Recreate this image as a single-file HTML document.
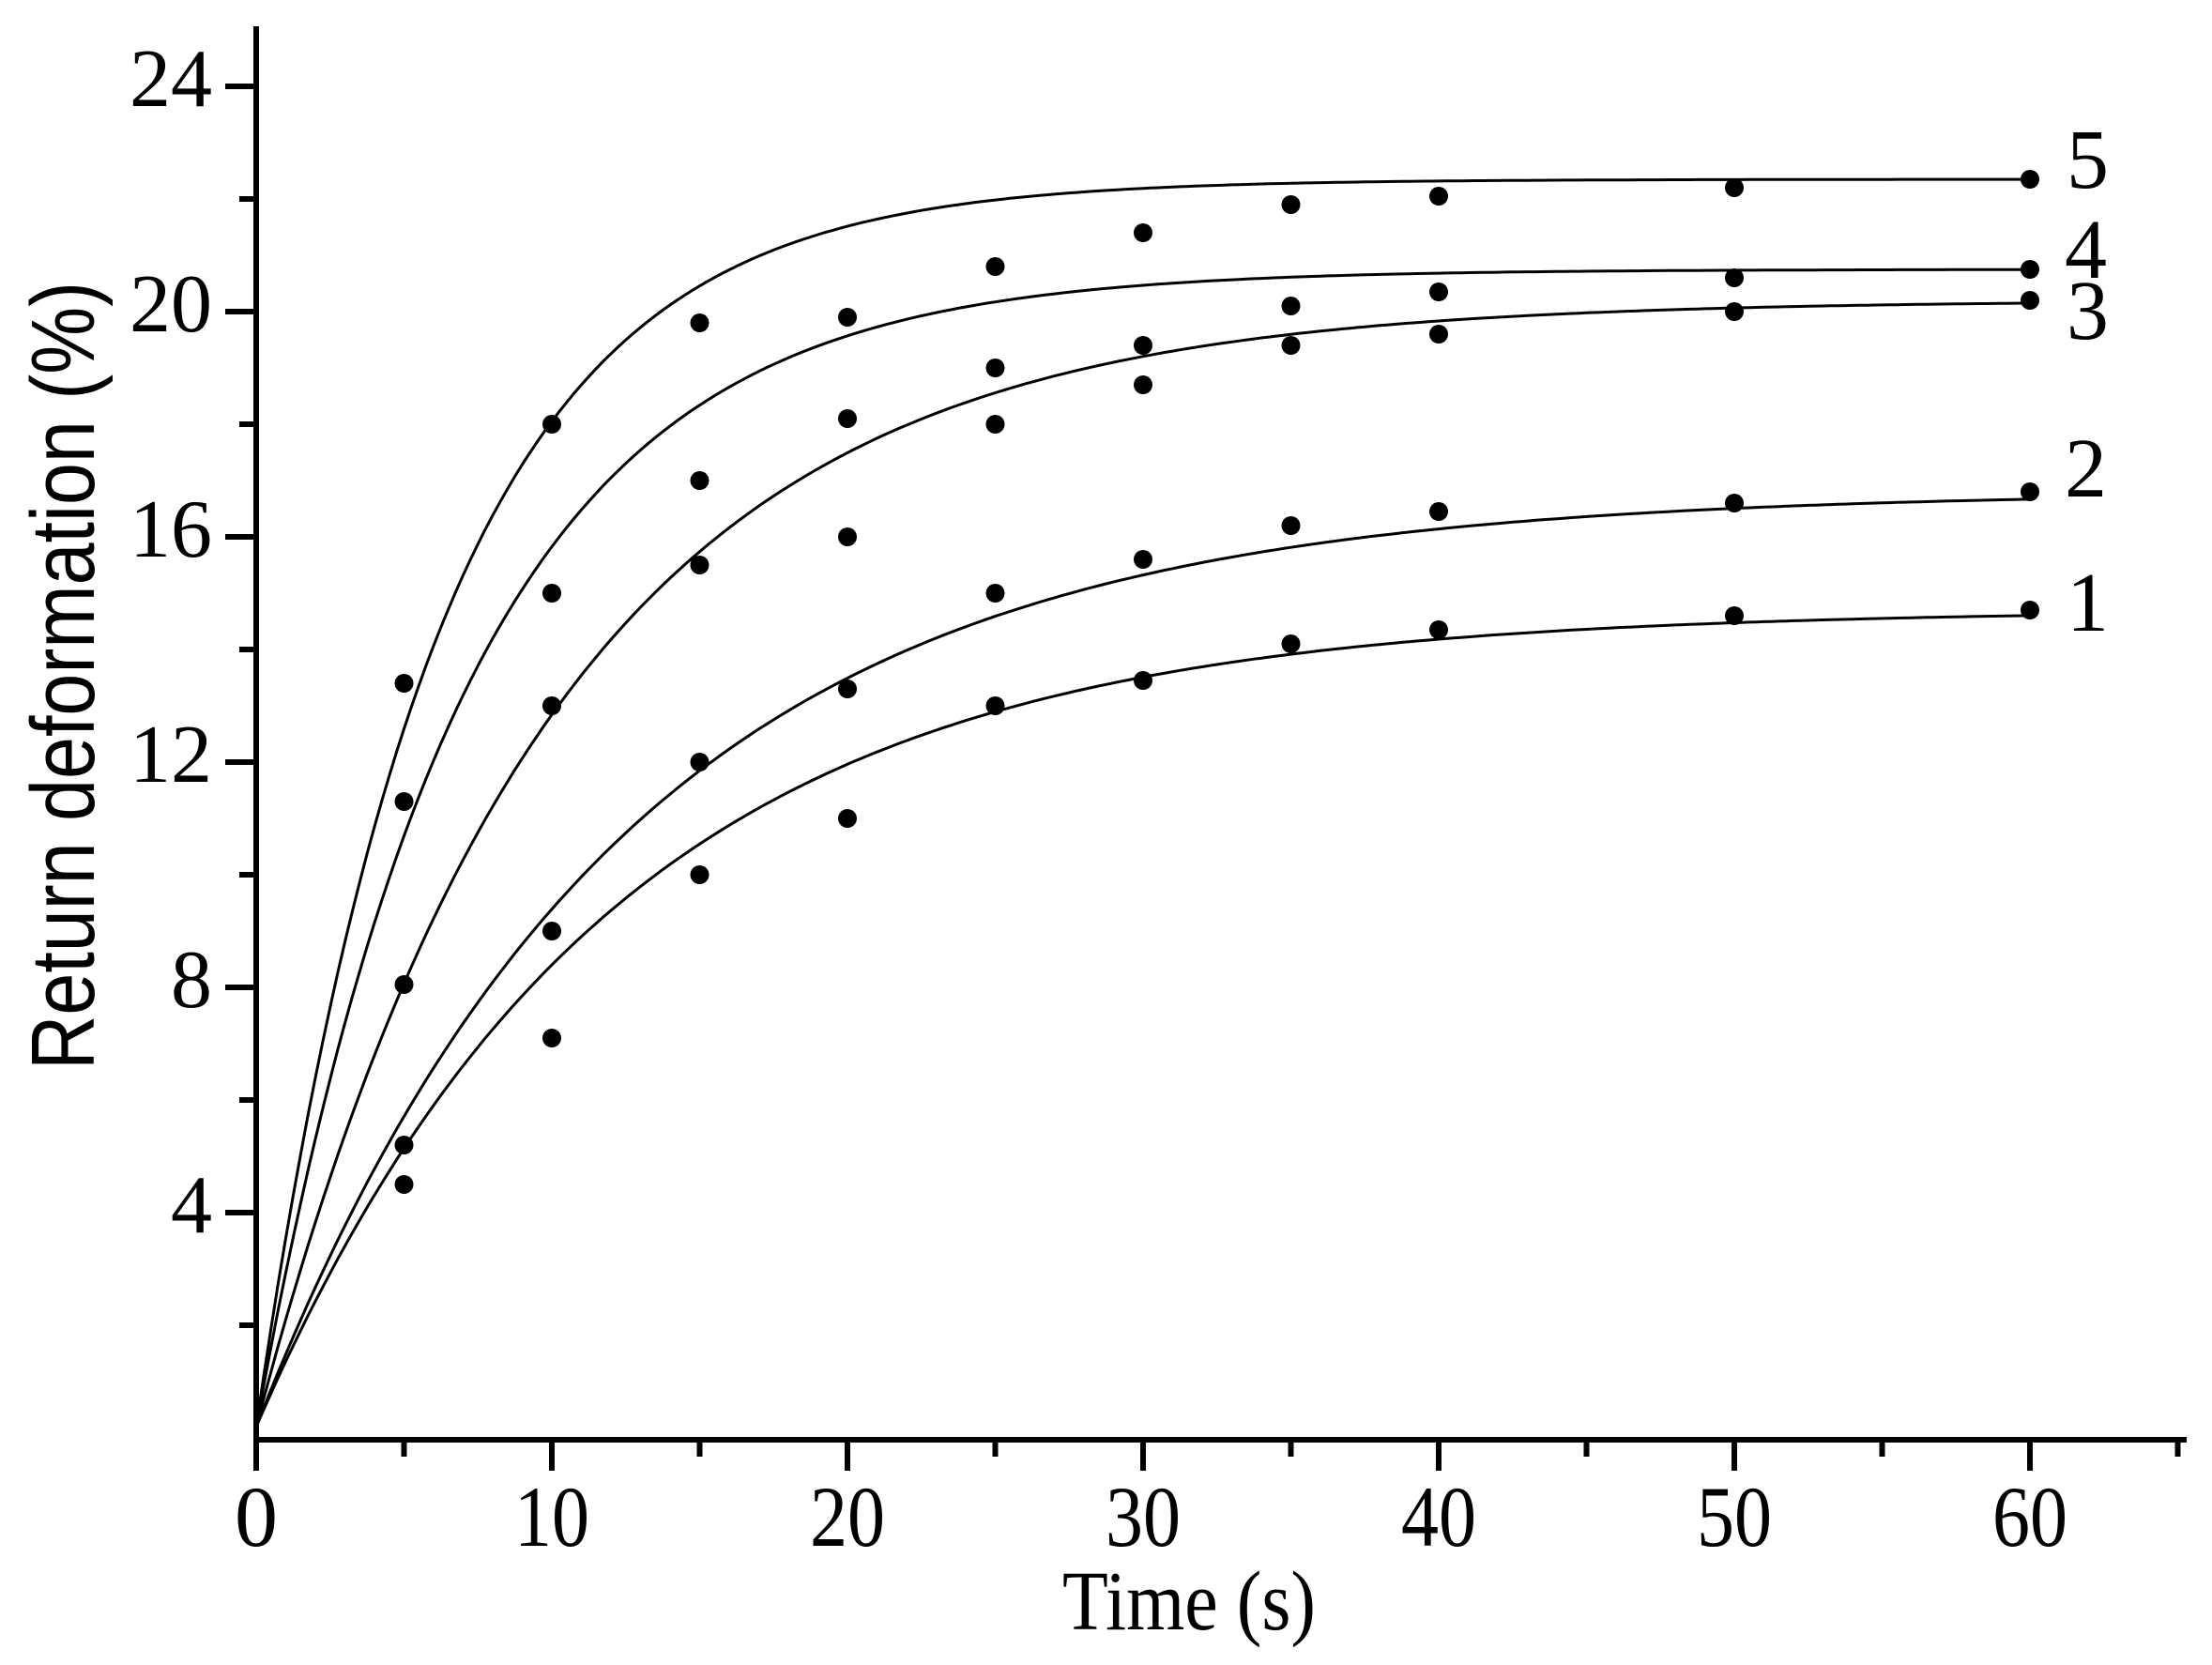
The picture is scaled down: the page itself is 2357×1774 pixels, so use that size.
<!DOCTYPE html>
<html><head><meta charset="utf-8"><style>html,body{margin:0;padding:0;background:#fff}svg{display:block}</style></head>
<body>
<svg id="s" width="2357" height="1774" viewBox="0 0 2357 1774" xmlns="http://www.w3.org/2000/svg">
<rect width="2357" height="1774" fill="#fff"/>
<g id="ax" stroke="#000" stroke-width="6" fill="none">
<line x1="273" y1="28" x2="273" y2="1537"/>
<line x1="270" y1="1534" x2="2330" y2="1534"/>
</g>
<g id="curves" stroke="#000" stroke-width="3" fill="none"></g>
<g id="dots" fill="#000"></g>
<g font-family="Liberation Serif, serif" font-size="88" fill="#000" text-anchor="end">
<text x="226" y="113">24</text>
<text x="226" y="353">20</text>
<text x="226" y="593">16</text>
<text x="226" y="833">12</text>
<text x="226" y="1073">8</text>
<text x="226" y="1313">4</text>
</g>
<g font-family="Liberation Serif, serif" font-size="92" fill="#000" text-anchor="middle">
<text x="273" y="1647">0</text>
<text x="588" y="1647" textLength="80" lengthAdjust="spacingAndGlyphs">10</text>
<text x="903" y="1647" textLength="80" lengthAdjust="spacingAndGlyphs">20</text>
<text x="1218" y="1647" textLength="80" lengthAdjust="spacingAndGlyphs">30</text>
<text x="1533" y="1647" textLength="80" lengthAdjust="spacingAndGlyphs">40</text>
<text x="1848" y="1647" textLength="80" lengthAdjust="spacingAndGlyphs">50</text>
<text x="2163" y="1647" textLength="80" lengthAdjust="spacingAndGlyphs">60</text>
</g>
<text x="1267" y="1736" font-family="Liberation Serif, serif" font-size="90" text-anchor="middle" textLength="270" lengthAdjust="spacingAndGlyphs">Time (s)</text>
<text transform="translate(100,720) rotate(-90)" font-family="Liberation Sans, sans-serif" font-size="96" text-anchor="middle" textLength="840" lengthAdjust="spacingAndGlyphs">Return deformation (%)</text>
<g font-family="Liberation Serif, serif" font-size="90" fill="#000">
<text x="2202" y="200">5</text>
<text x="2200" y="296">4</text>
<text x="2202" y="361">3</text>
<text x="2200" y="529">2</text>
<text x="2202" y="672">1</text>
</g>
</svg>
<script>
var NS="http://www.w3.org/2000/svg";
function X(t){return 273+31.5*t;}function Y(v){return 1532-60*v;}
var ax=document.getElementById("ax");
function ln(x1,y1,x2,y2){var l=document.createElementNS(NS,"line");l.setAttribute("x1",x1);l.setAttribute("y1",y1);l.setAttribute("x2",x2);l.setAttribute("y2",y2);ax.appendChild(l);}
for(var v=2;v<=24;v+=2){var major=(v%4==0);ln(major?240:255,Y(v),273,Y(v));}
for(var t=0;t<=65;t+=5){var major=(t%10==0);ln(X(t),1534,X(t),major?1567:1552);}
var cur=[[14.7,12],[16.8,12.4],[20.2,10],[20.75,7],[22.35,6.1]];
var cg=document.getElementById("curves");
cur.forEach(function(c){var d="";for(var t=0;t<=60.01;t+=0.25){var v=0.2+(c[0]-0.2)*(1-Math.exp(-t/c[1]));d+=(t==0?"M":"L")+X(t).toFixed(1)+","+Y(v).toFixed(1);}var p=document.createElementNS(NS,"path");p.setAttribute("d",d);cg.appendChild(p);});
var data={5:[13.4,11.3,8.05,5.2,4.5],10:[18.0,15.0,13.0,9.0,7.1],15:[19.8,17.0,15.5,12.0,10.0],20:[19.9,18.1,16.0,13.3,11.0],25:[20.8,19.0,18.0,15.0,13.0],30:[21.4,19.4,18.7,15.6,13.45],35:[21.9,20.1,19.4,16.2,14.1],40:[22.05,20.35,19.6,16.45,14.35],50:[22.2,20.6,20.0,16.6,14.6],60:[22.35,20.75,20.2,16.8,14.7]};
var dg=document.getElementById("dots");
for(var k in data){data[k].forEach(function(v){var c=document.createElementNS(NS,"circle");c.setAttribute("cx",X(+k));c.setAttribute("cy",Y(v));c.setAttribute("r",10);dg.appendChild(c);});}
</script>
</body></html>
